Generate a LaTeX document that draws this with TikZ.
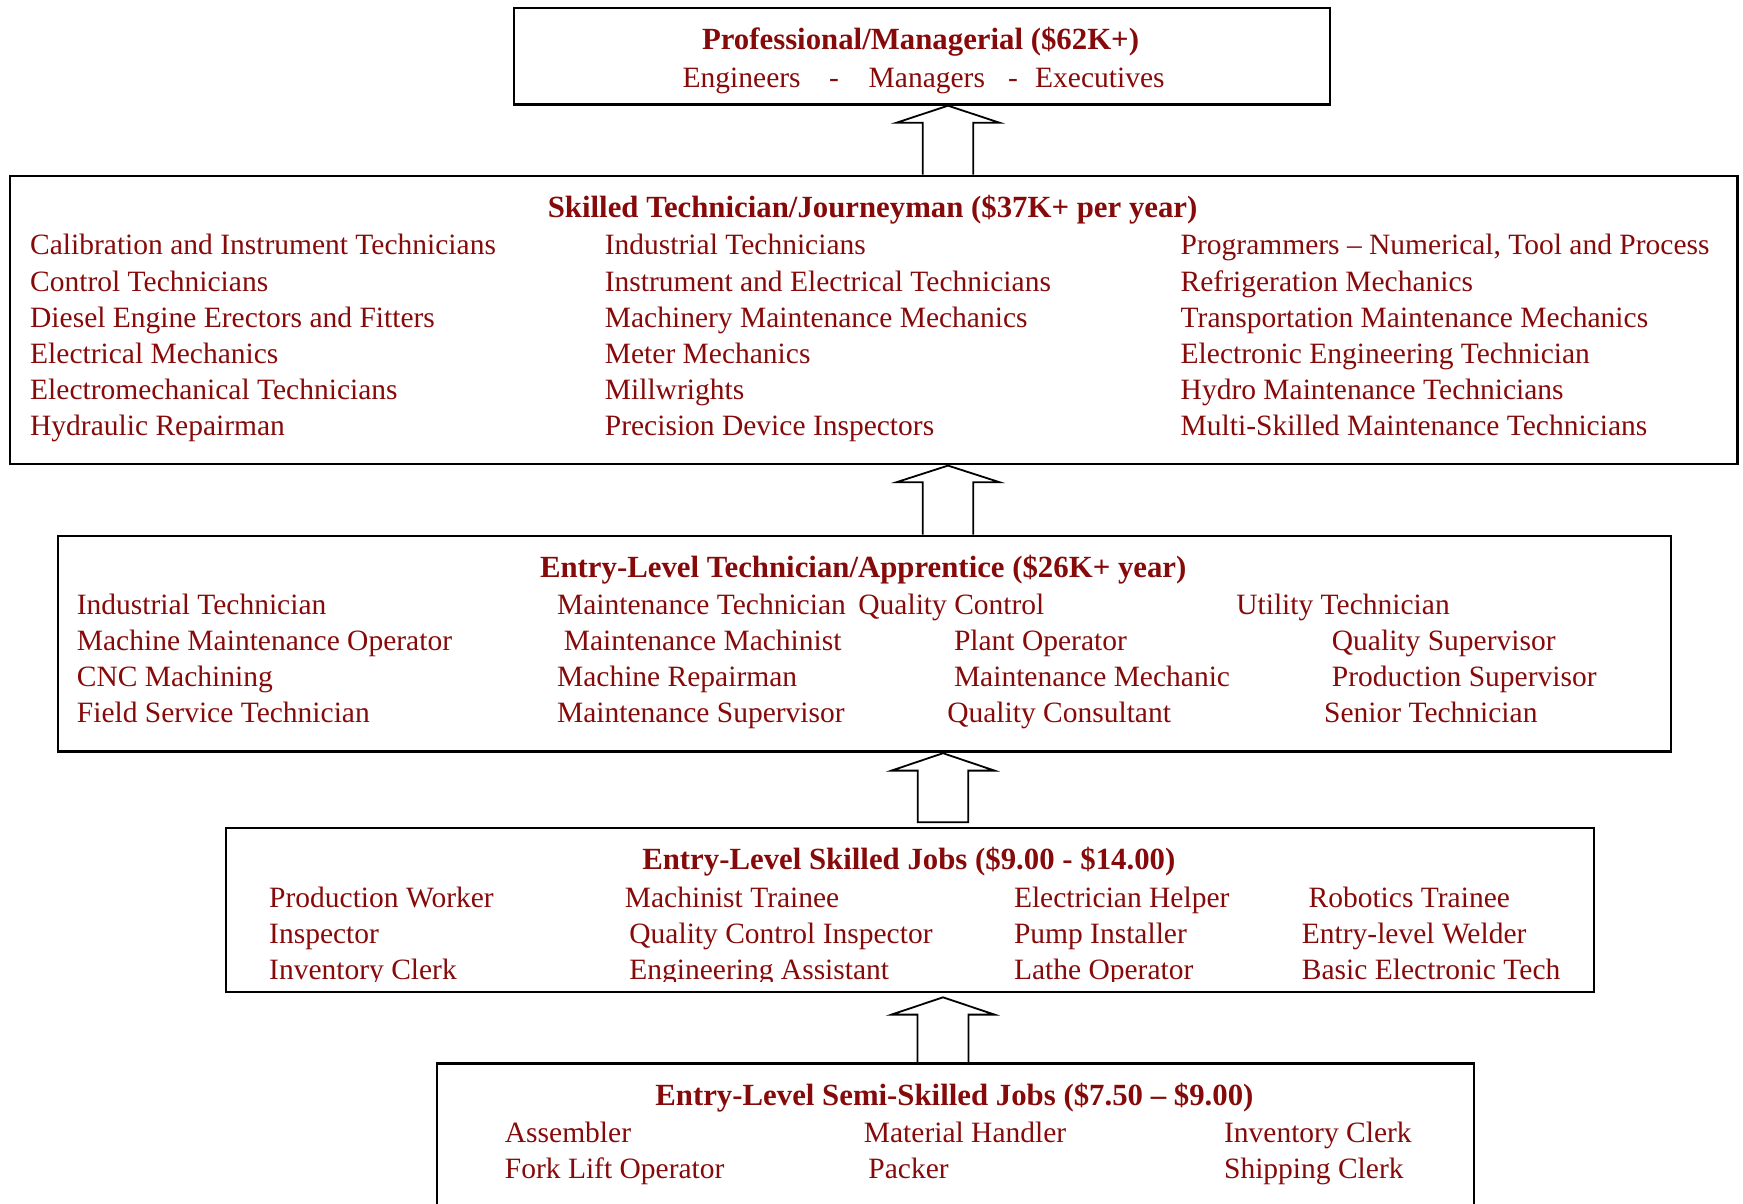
\documentclass[tikz,border=0pt]{standalone}
\usepackage{fontspec}
\setmainfont{Liberation Serif}
\usetikzlibrary{calc}
\definecolor{jobred}{RGB}{135,10,10}
\begin{document}
\begin{tikzpicture}[x=1pt,y=-1pt,
  tier/.style={draw=black, line width=2.3pt, rectangle, inner sep=0pt, anchor=north west},
  job/.style={text=jobred, inner sep=0pt, anchor=base west, font=\fontsize{29.5}{36}\selectfont},
  tiertitle/.style={text=jobred, inner sep=0pt, anchor=base, font=\fontsize{30.8}{36}\selectfont\bfseries},
  blockarrow/.style={draw=black, line width=1.8pt, line join=miter}]
\useasboundingbox (0,0) rectangle (1743,1204);
\clip (0,0) rectangle (1743,1204);

% ---- tier boxes ----
\node[tier, minimum width=816pt,    minimum height=96.7pt]  (b1) at (512.5,6.7) {};
\node[tier, minimum width=1727.4pt, minimum height=288pt]   (b2) at (8.9,174.5) {};
\node[tier, minimum width=1613pt,   minimum height=215.6pt] (b3) at (56.7,534.7) {};
\node[tier, minimum width=1368.5pt, minimum height=163.5pt] (b4) at (224.5,827) {};
\node[tier, minimum width=1037pt,   minimum height=180pt]   (b5) at (435.8,1062.2) {};

% ---- block arrows between tiers ----
\coordinate (ax1) at (948,0);
\coordinate (ax2) at (948,0);
\coordinate (ax3) at (943,0);
\coordinate (ax4) at (943,0);
\draw[blockarrow] ($(ax1 |- b2.north)+(-25.3,0)$) |- ($(ax1 |- b1.south)+(-51.5,17)$)
  -- (ax1 |- b1.south) -- ($(ax1 |- b1.south)+(51.5,17)$) -| ($(ax1 |- b2.north)+(25.3,0)$);
\draw[blockarrow] ($(ax2 |- b3.north)+(-25.3,0)$) |- ($(ax2 |- b2.south)+(-51.5,17.4)$)
  -- ($(ax2 |- b2.south)+(0,0.8)$) -- ($(ax2 |- b2.south)+(51.5,17.4)$) -| ($(ax2 |- b3.north)+(25.3,0)$);
\draw[blockarrow] ($(ax3 |- b4.north)+(-25.3,-4.8)$) |- ($(ax3 |- b3.south)+(-51.5,18)$)
  -- ($(ax3 |- b3.south)+(0,0.6)$) -- ($(ax3 |- b3.south)+(51.5,18)$) -| ($(ax3 |- b4.north)+(25.3,-4.8)$) -- cycle;
\draw[blockarrow] ($(ax4 |- b5.north)+(-25.5,0)$) |- ($(ax4 |- b4.south)+(-51.5,21.8)$)
  -- ($(ax4 |- b4.south)+(0,4.5)$) -- ($(ax4 |- b4.south)+(51.5,21.8)$) -| ($(ax4 |- b5.north)+(25.5,0)$);

% ---- Professional/Managerial ----
\node[tiertitle] (h1) at (920.5,49.3) {Professional/Managerial (\$62K+)};
\node[job] (p1) at (682.5,87.3) {Engineers};
\node[job] (p2) at (829,87.3) {-};
\node[job] (p3) at (868.5,87.3) {Managers};
\node[job] (p4) at (1008,87.3) {-};
\node[job] (p5) at (1035,87.3) {Executives};

% ---- Skilled Technician/Journeyman ----
\node[tiertitle] (h2) at (872.6,217.3) {Skilled Technician/Journeyman (\$37K+ per year)};
\foreach \t [count=\i, evaluate=\i as \yy using 254.9+36.1*(\i-1)] in
  {Calibration and Instrument Technicians, Control Technicians,
   Diesel Engine Erectors and Fitters, Electrical Mechanics,
   Electromechanical Technicians, Hydraulic Repairman}
  \node[job] (s1-\i) at (30,\yy) {\t};
\foreach \t [count=\i, evaluate=\i as \yy using 254.9+36.1*(\i-1)] in
  {Industrial Technicians, Instrument and Electrical Technicians,
   Machinery Maintenance Mechanics, Meter Mechanics,
   Millwrights, Precision Device Inspectors}
  \node[job] (s2-\i) at (604.7,\yy) {\t};
\foreach \t [count=\i, evaluate=\i as \yy using 254.9+36.1*(\i-1)] in
  {{Programmers – Numerical, Tool and Process}, Refrigeration Mechanics,
   Transportation Maintenance Mechanics, Electronic Engineering Technician,
   Hydro Maintenance Technicians, Multi-Skilled Maintenance Technicians}
  \node[job] (s3-\i) at (1180.5,\yy) {\t};

% ---- Entry-Level Technician/Apprentice ----
\node[tiertitle] (h3) at (863.2,577.5) {Entry-Level Technician/Apprentice (\$26K+ year)};
\foreach \x/\y/\t [count=\i] in
  {76.7/614.5/Industrial Technician, 556.9/614.5/Maintenance Technician,
   858.2/614.5/Quality Control, 1236.1/614.5/Utility Technician,
   76.7/650.5/Machine Maintenance Operator, 563.6/650.5/Maintenance Machinist,
   953.8/650.5/Plant Operator, 1331.7/650.5/Quality Supervisor,
   76.7/686.5/CNC Machining, 556.9/686.5/Machine Repairman,
   953.8/686.5/Maintenance Mechanic, 1331.7/686.5/Production Supervisor,
   76.7/722.5/Field Service Technician, 556.9/722.5/Maintenance Supervisor,
   947.1/722.5/Quality Consultant, 1323.9/722.5/Senior Technician}
  \node[job] (e-\i) at (\x,\y) {\t};

% ---- Entry-Level Skilled Jobs ----
\node[tiertitle] (h4) at (908.8,869.5) {Entry-Level Skilled Jobs (\$9.00 - \$14.00)};
\foreach \x/\y/\t [count=\i] in
  {269/907.5/Production Worker, 624.7/907.5/Machinist Trainee,
   1013.8/907.5/Electrician Helper, 1308.4/907.5/Robotics Trainee,
   269/943.5/Inspector, 629.2/943.5/Quality Control Inspector,
   1013.8/943.5/Pump Installer, 1301.7/943.5/Entry-level Welder}
  \node[job] (k-\i) at (\x,\y) {\t};
\begin{scope}
  \clip (224.5,930) rectangle (1593,981.5);
  \foreach \x/\t [count=\i] in
    {269/Inventory Clerk, 629.2/Engineering Assistant,
     1013.8/Lathe Operator, 1301.7/Basic Electronic Tech}
    \node[job] (kl-\i) at (\x,979.5) {\t};
\end{scope}

% ---- Entry-Level Semi-Skilled Jobs ----
\node[tiertitle] (h5) at (954.4,1105.3) {Entry-Level Semi-Skilled Jobs (\$7.50 – \$9.00)};
\foreach \x/\y/\t [count=\i] in
  {504.7/1142.5/Assembler, 863.7/1142.5/Material Handler,
   1223.9/1142.5/Inventory Clerk,
   504.7/1178.5/Fork Lift Operator, 868.2/1178.5/Packer,
   1223.9/1178.5/Shipping Clerk}
  \node[job] (m-\i) at (\x,\y) {\t};
\end{tikzpicture}
\end{document}
